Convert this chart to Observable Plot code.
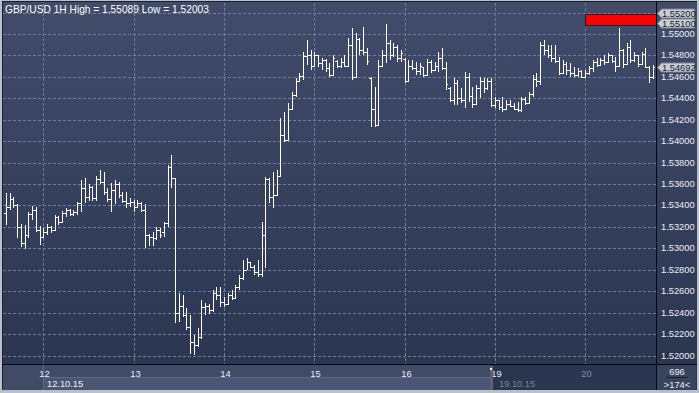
<!DOCTYPE html>
<html>
<head>
<meta charset="utf-8">
<script src="https://cdn.jsdelivr.net/npm/d3@7"></script>
<script src="https://cdn.jsdelivr.net/npm/@observablehq/plot@0.6"></script>
<style>
html, body { margin: 0; padding: 0; background: #b9c0c9; overflow: hidden; }
#chart { width: 699px; height: 393px; }
#chart svg { display: block; }
</style>
</head>
<body>
<div id="chart"></div>
<script>
// ---------- data ----------
const title = "GBP/USD 1H High = 1.55089 Low = 1.52003";

const opens = [
1.53330,1.53390,1.53460,1.53400,1.53200,1.53050,1.53120,1.53320,1.53360,1.53170,
1.53110,1.53150,1.53200,1.53170,1.53290,1.53250,1.53330,1.53360,1.53320,1.53340,
1.53420,1.53560,1.53480,1.53570,1.53470,1.53650,1.53620,1.53530,1.53460,1.53540,
1.53600,1.53500,1.53440,1.53420,1.53430,1.53390,1.53420,1.53360,1.53120,1.53110,
1.53100,1.53170,1.53150,1.53240,1.53760,1.53660,1.52400,1.52460,1.52380,1.52270,
1.52130,1.52100,1.52170,1.52450,1.52460,1.52420,1.52580,1.52560,1.52500,1.52480,
1.52560,1.52540,1.52640,1.52720,1.52800,1.52870,1.52830,1.52780,1.52760,1.53120,
1.53650,1.53480,1.53500,1.53670,1.54060,1.54010,1.54300,1.54430,1.54560,1.54610,
1.54790,1.54800,1.54700,1.54800,1.54730,1.54760,1.54680,1.54620,1.54750,1.54700,
1.54740,1.54700,1.54900,1.54600,1.54950,1.54850,1.54830,1.54590,1.54300,1.54150,
1.54700,1.54800,1.54920,1.54800,1.54880,1.54780,1.54770,1.54560,1.54700,1.54680,
1.54650,1.54690,1.54620,1.54740,1.54660,1.54700,1.54780,1.54680,1.54500,1.54380,
1.54540,1.54400,1.54380,1.54600,1.54420,1.54350,1.54500,1.54560,1.54500,1.54560,
1.54340,1.54380,1.54320,1.54300,1.54350,1.54330,1.54300,1.54290,1.54390,1.54360,
1.54440,1.54580,1.54560,1.54900,1.54850,1.54800,1.54780,1.54750,1.54640,1.54720,
1.54660,1.54640,1.54620,1.54650,1.54600,1.54640,1.54680,1.54740,1.54710,1.54760,
1.54740,1.54800,1.54750,1.54700,1.54850,1.54720,1.54880,1.54760,1.54800,1.54720,
1.54810,1.54690,1.54600
];
const highs = [
1.53517,1.53517,1.53480,1.53410,1.53228,1.53219,1.53340,1.53396,1.53387,1.53210,
1.53190,1.53230,1.53210,1.53310,1.53300,1.53350,1.53380,1.53370,1.53360,1.53430,
1.53640,1.53660,1.53600,1.53580,1.53670,1.53730,1.53710,1.53560,1.53610,1.53640,
1.53620,1.53530,1.53530,1.53470,1.53450,1.53450,1.53430,1.53410,1.53130,1.53150,
1.53200,1.53190,1.53250,1.53780,1.53871,1.53660,1.52580,1.52560,1.52440,1.52380,
1.52190,1.52260,1.52520,1.52490,1.52480,1.52610,1.52640,1.52640,1.52547,1.52585,
1.52613,1.52659,1.52752,1.52892,1.52911,1.52874,1.52846,1.52892,1.53247,1.53666,
1.53657,1.53713,1.53731,1.54216,1.54272,1.54356,1.54459,1.54589,1.54636,1.54832,
1.54944,1.54850,1.54832,1.54804,1.54776,1.54770,1.54729,1.54804,1.54757,1.54776,
1.54804,1.54962,1.55055,1.55009,1.54962,1.55065,1.54869,1.54599,1.54505,1.54757,
1.54850,1.55089,1.54944,1.54916,1.54897,1.54850,1.54776,1.54757,1.54757,1.54738,
1.54729,1.54692,1.54766,1.54757,1.54738,1.54832,1.54869,1.54738,1.54505,1.54589,
1.54571,1.54496,1.54645,1.54636,1.54505,1.54524,1.54599,1.54589,1.54589,1.54589,
1.54412,1.54384,1.54412,1.54384,1.54384,1.54356,1.54365,1.54412,1.54412,1.54459,
1.54617,1.54636,1.54925,1.54944,1.54897,1.54897,1.54897,1.54785,1.54757,1.54738,
1.54729,1.54692,1.54683,1.54664,1.54664,1.54701,1.54757,1.54776,1.54776,1.54804,
1.54822,1.54804,1.54785,1.55060,1.54860,1.54916,1.54944,1.54832,1.54804,1.54832,
1.54869,1.54700,1.54710
];
const lows = [
1.53219,1.53359,1.53377,1.53098,1.53014,1.52995,1.53100,1.53265,1.53153,1.53032,
1.53100,1.53120,1.53140,1.53160,1.53220,1.53240,1.53290,1.53300,1.53300,1.53310,
1.53340,1.53420,1.53440,1.53440,1.53440,1.53600,1.53500,1.53430,1.53340,1.53410,
1.53470,1.53420,1.53380,1.53390,1.53340,1.53380,1.53340,1.53000,1.53020,1.53020,
1.53080,1.53100,1.53110,1.53200,1.53560,1.52300,1.52310,1.52360,1.52240,1.52010,
1.52003,1.52080,1.52150,1.52380,1.52390,1.52410,1.52520,1.52450,1.52454,1.52470,
1.52519,1.52530,1.52613,1.52706,1.52799,1.52818,1.52752,1.52734,1.52734,1.52818,
1.53424,1.53377,1.53490,1.53666,1.53993,1.54000,1.54290,1.54412,1.54552,1.54571,
1.54710,1.54664,1.54690,1.54692,1.54664,1.54645,1.54599,1.54610,1.54683,1.54683,
1.54692,1.54692,1.54571,1.54589,1.54804,1.54804,1.54710,1.54132,1.54132,1.54140,
1.54690,1.54729,1.54757,1.54785,1.54738,1.54738,1.54543,1.54550,1.54664,1.54617,
1.54617,1.54599,1.54610,1.54636,1.54650,1.54645,1.54664,1.54477,1.54365,1.54338,
1.54338,1.54356,1.54310,1.54365,1.54310,1.54340,1.54403,1.54449,1.54477,1.54319,
1.54310,1.54291,1.54272,1.54290,1.54319,1.54291,1.54272,1.54272,1.54338,1.54350,
1.54412,1.54505,1.54524,1.54804,1.54776,1.54738,1.54729,1.54617,1.54630,1.54617,
1.54599,1.54599,1.54599,1.54589,1.54589,1.54617,1.54645,1.54692,1.54700,1.54710,
1.54730,1.54729,1.54645,1.54690,1.54683,1.54710,1.54729,1.54738,1.54692,1.54710,
1.54683,1.54543,1.54580
];
const closes = [
1.53390,1.53460,1.53400,1.53200,1.53050,1.53080,1.53320,1.53360,1.53170,1.53110,
1.53150,1.53200,1.53170,1.53290,1.53250,1.53330,1.53360,1.53320,1.53340,1.53420,
1.53560,1.53480,1.53570,1.53470,1.53650,1.53620,1.53530,1.53460,1.53540,1.53600,
1.53500,1.53440,1.53420,1.53430,1.53390,1.53420,1.53360,1.53120,1.53110,1.53080,
1.53170,1.53120,1.53240,1.53760,1.53660,1.52400,1.52460,1.52380,1.52270,1.52130,
1.52100,1.52170,1.52450,1.52460,1.52420,1.52580,1.52560,1.52500,1.52480,1.52560,
1.52540,1.52640,1.52720,1.52800,1.52880,1.52830,1.52780,1.52760,1.53120,1.53650,
1.53480,1.53500,1.53670,1.54060,1.54010,1.54300,1.54430,1.54550,1.54610,1.54790,
1.54800,1.54700,1.54800,1.54730,1.54760,1.54680,1.54620,1.54780,1.54700,1.54740,
1.54700,1.54900,1.54600,1.54950,1.54850,1.54830,1.54750,1.54300,1.54150,1.54700,
1.54800,1.54920,1.54800,1.54880,1.54780,1.54820,1.54560,1.54700,1.54680,1.54650,
1.54700,1.54620,1.54740,1.54660,1.54700,1.54780,1.54680,1.54530,1.54380,1.54540,
1.54400,1.54380,1.54600,1.54420,1.54350,1.54500,1.54560,1.54500,1.54560,1.54340,
1.54380,1.54320,1.54300,1.54350,1.54330,1.54300,1.54290,1.54390,1.54360,1.54440,
1.54580,1.54560,1.54900,1.54850,1.54800,1.54780,1.54750,1.54640,1.54720,1.54660,
1.54640,1.54620,1.54650,1.54600,1.54640,1.54680,1.54740,1.54710,1.54760,1.54740,
1.54800,1.54750,1.54700,1.54850,1.54720,1.54880,1.54760,1.54800,1.54720,1.54810,
1.54690,1.54600,1.54692
];

const dayStarts = [10, 34, 58, 82, 106, 130, 154];
const dayLabels = ["12", "13", "14", "15", "16", "19", "20"];
const weekStarts = [10, 130];
const weekLabels = ["12.10.15", "19.10.15"];

const yTicks = [1.520, 1.522, 1.524, 1.526, 1.528, 1.530, 1.532, 1.534,
                1.536, 1.538, 1.540, 1.542, 1.544, 1.546, 1.548, 1.550, 1.552];
const yLabelTicks = yTicks.filter(v => v < 1.551);

const zoneStart = 154, zoneLow = 1.5508, zoneHigh = 1.5519;
const tagValues = [1.552, 1.551, 1.54692];
const tagLabels = ["1.55200", "1.55100", "1.54692"];
const totalBars = "696";
const visibleBars = ">174<";

// ---------- build ----------
const FONT = "'Liberation Sans', Arial, sans-serif";
const bars = opens.map((o, i) => ({i, open: o, high: highs[i], low: lows[i], close: closes[i]}));
const xDomain = [-0.2, 172.8];
const dayFmt = d => dayLabels[dayStarts.indexOf(d)];

const plot = Plot.plot({
  width: 699,
  height: 393,
  marginTop: 3,
  marginRight: 43,
  marginBottom: 29,
  marginLeft: 3,
  x: {domain: xDomain, range: [5, 656], round: true, label: null},
  y: {domain: [1.52, 1.552], range: [355.5, 12.5], round: true, label: null},
  style: {background: "transparent", fontFamily: FONT, fontSize: "9px", color: "#eef0f4"},
  marks: [
    Plot.gridY(yTicks, {stroke: "#6d7d9c", strokeOpacity: 1, strokeDasharray: "3,2"}),
    Plot.gridX(dayStarts, {stroke: "#6d7d9c", strokeOpacity: 1, strokeDasharray: "3,2"}),
    Plot.rect([{x1: zoneStart, x2: xDomain[1], y1: zoneLow, y2: zoneHigh}],
      {x1: "x1", x2: "x2", y1: "y1", y2: "y2", fill: "#ff0000", stroke: "#241c2a", shapeRendering: "crispEdges"}),
    Plot.ruleX(bars, {x: "i", y1: "low", y2: "high", stroke: "#ffffff", strokeWidth: 1, shapeRendering: "crispEdges"}),
    Plot.ruleY(bars, {y: "open", x1: d => d.i - 0.5, x2: "i", stroke: "#ffffff", strokeWidth: 1, shapeRendering: "crispEdges"}),
    Plot.ruleY(bars, {y: "close", x1: "i", x2: d => d.i + 0.5, stroke: "#ffffff", strokeWidth: 1, shapeRendering: "crispEdges"}),
    Plot.axisY(yLabelTicks, {anchor: "right", tickSize: 0, tickPadding: 4.5,
      tickFormat: d => d.toFixed(5), fill: "#eef0f4", fontSize: 9.3, label: null}),
    Plot.axisX(dayStarts.slice(0, 6), {anchor: "bottom", tickSize: 0, tickPadding: 5.6,
      tickFormat: dayFmt, fill: "#eef0f4", fontSize: 9.3, dx: 1, label: null}),
    Plot.axisX(dayStarts.slice(6), {anchor: "bottom", tickSize: 0, tickPadding: 5.6,
      tickFormat: dayFmt, fill: "#8590a6", fontSize: 9.3, dx: 1, label: null}),
    Plot.text([title], {text: d => d, frameAnchor: "top-left", dx: 1.5, dy: 1.8,
      fill: "#ffffff", fontSize: 10.2}),
    Plot.text([{i: weekStarts[0], t: weekLabels[0]}], {x: "i", text: "t", frameAnchor: "bottom",
      lineAnchor: "bottom", textAnchor: "start", dx: 3.5, dy: 22.5, fill: "#eef0f4", fontSize: 9.3}),
    Plot.text([{i: weekStarts[1], t: weekLabels[1]}], {x: "i", text: "t", frameAnchor: "bottom",
      lineAnchor: "bottom", textAnchor: "start", dx: 3.5, dy: 22.5, fill: "#7c879c", fontSize: 9.3})
  ]
});

// ---------- chrome (window frame, panels) ----------
const svg = d3.select(plot);
const defs = svg.insert("defs", ":first-child");
const grad = defs.append("linearGradient").attr("id", "bgGrad")
  .attr("gradientUnits", "userSpaceOnUse").attr("x1", 0).attr("x2", 0).attr("y1", 3).attr("y2", 364);
grad.append("stop").attr("offset", 0).attr("stop-color", "#404c6a");
grad.append("stop").attr("offset", 1).attr("stop-color", "#2b3651");

const back = svg.insert("g", "defs + *").attr("shape-rendering", "crispEdges");
back.append("rect").attr("x", 0).attr("y", 0).attr("width", 699).attr("height", 393).attr("fill", "#b9c0c9");
back.append("rect").attr("x", 2).attr("y", 1).attr("width", 695).attr("height", 389).attr("fill", "url(#bgGrad)");
// bottom date panel
back.append("rect").attr("x", 3).attr("y", 365).attr("width", 653).attr("height", 25).attr("fill", "#3f4b67");
back.append("rect").attr("x", 43).attr("y", 378).attr("width", 447).attr("height", 12).attr("fill", "#4a5674");
back.append("line").attr("x1", 43).attr("x2", 490).attr("y1", 377.5).attr("y2", 377.5).attr("stroke", "#5d6987");
back.append("line").attr("x1", 43.5).attr("x2", 43.5).attr("y1", 365).attr("y2", 390).attr("stroke", "#5d6987");
back.append("rect").attr("x", 490).attr("y", 365).attr("width", 166).attr("height", 25).attr("fill", "#2a3550");
// corner box
back.append("rect").attr("x", 657).attr("y", 365).attr("width", 39).attr("height", 25).attr("fill", "#38445e");

const front = svg.append("g").attr("shape-rendering", "crispEdges");
// separator in date panel
front.append("rect").attr("x", 490).attr("y", 366).attr("width", 3).attr("height", 24).attr("fill", "#5a6272");
front.append("rect").attr("x", 490).attr("y", 368).attr("width", 2).attr("height", 2).attr("fill", "#ffffff");
// panel borders
front.append("line").attr("x1", 2.5).attr("x2", 2.5).attr("y1", 1).attr("y2", 390).attr("stroke", "#1b202c");
front.append("line").attr("x1", 2).attr("x2", 697).attr("y1", 1.5).attr("y2", 1.5).attr("stroke", "#1b202c");
front.append("line").attr("x1", 656.5).attr("x2", 656.5).attr("y1", 1).attr("y2", 390).attr("stroke", "#05070c");
front.append("line").attr("x1", 2).attr("x2", 697).attr("y1", 364.5).attr("y2", 364.5).attr("stroke", "#05070c");
front.append("line").attr("x1", 666).attr("x2", 688).attr("y1", 377.5).attr("y2", 377.5).attr("stroke", "#1a2030");

const cornerText = svg.append("g").attr("font-family", FONT).attr("font-size", 9.3)
  .attr("fill", "#eef0f4").attr("text-anchor", "middle");
cornerText.append("text").attr("x", 677).attr("y", 374.5).text(totalBars);
cornerText.append("text").attr("x", 677).attr("y", 387.5).text(visibleBars);

// price tags on the right axis, positioned through the plot's y scale
const yScale = plot.scale("y");
const tags = svg.append("g").attr("font-family", FONT).attr("font-size", 9.3).attr("text-anchor", "start");
tagValues.forEach((v, k) => {
  const cy = Math.round(yScale.apply(v)) + 0.5;
  tags.append("path")
    .attr("d", `M657.5,${cy} L661.5,${cy - 4.5} L694.5,${cy - 4.5} L694.5,${cy + 4.5} L661.5,${cy + 4.5} Z`)
    .attr("fill", "#c9ced6").attr("stroke", "#7c8494").attr("stroke-width", 1);
  tags.append("text").attr("x", 662).attr("y", cy + 3.4).attr("fill", "#141a28").text(tagLabels[k]);
});

document.getElementById("chart").appendChild(plot);
</script>
</body>
</html>
